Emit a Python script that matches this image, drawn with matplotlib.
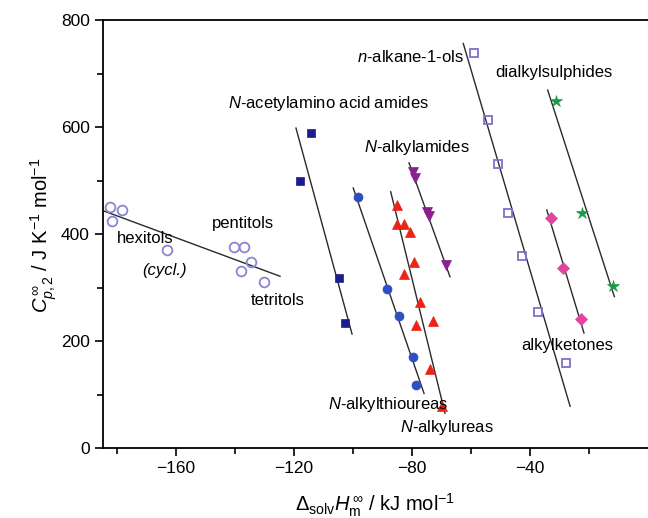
import matplotlib
matplotlib.use("Agg")
import matplotlib.pyplot as plt

plt.rcParams["font.family"] = ["Liberation Sans", "DejaVu Sans"]
plt.rcParams["mathtext.fontset"] = "custom"
plt.rcParams["mathtext.rm"] = "Liberation Sans"
plt.rcParams["mathtext.it"] = "Liberation Sans:italic"
plt.rcParams["mathtext.bf"] = "Liberation Sans:bold"

# Polyols (hexitols, cycl., pentitols, tetritols)
POLYOL_X = [-182.4, -178.3, -181.7, -163.1, -140.3, -137.0, -134.6, -138.0, -130.2]
POLYOL_Y = [450, 445, 424, 370, 376, 376, 348, 331, 310]
POLYOL_LINE = ([-184.4, -124.7], [443, 321])

# N-acetylamino acid amides
AMINO_X = [-114.2, -118.0, -104.7, -102.7]
AMINO_Y = [589, 499, 318, 234]
AMINO_LINE = ([-119.3, -100.3], [598, 213])

# N-alkylthioureas
THIOUREA_X = [-98.3, -88.5, -84.4, -79.7, -78.6]
THIOUREA_Y = [469, 297, 247, 170, 118]
THIOUREA_LINE = ([-99.9, -75.9], [486, 102])

# N-alkylureas
UREA_X = [-85.1, -85.1, -82.7, -80.7, -79.3, -82.7, -77.3, -78.6, -72.9, -73.9, -69.8]
UREA_Y = [454, 419, 419, 404, 348, 325, 273, 230, 237, 148, 78]
UREA_LINE = ([-87.2, -68.8], [479, 65])

# N-alkylamides
AMIDE_X = [-79.7, -79.0, -74.9, -74.2, -68.5]
AMIDE_Y = [516, 505, 441, 434, 342]
AMIDE_LINE = ([-81.0, -67.1], [533, 320])

# n-alkane-1-ols
ALKANOL_X = [-58.9, -54.1, -50.7, -47.4, -42.8, -37.2, -27.8]
ALKANOL_Y = [738, 613, 530, 440, 359, 255, 159]
ALKANOL_LINE = ([-62.6, -26.4], [756, 78])

# alkylketones
KETONE_X = [-32.9, -28.7, -22.8]
KETONE_Y = [429, 336, 242]
KETONE_LINE = ([-34.3, -21.7], [445, 215])

# dialkylsulphides
SULPHIDE_X = [-31.2, -22.3, -11.8]
SULPHIDE_Y = [649, 439, 303]
SULPHIDE_LINE = ([-34.0, -11.4], [669, 283])

LABELS = [
    ("hexitols", -170.3, 391, "normal"),
    ("(cycl.)", -163.7, 332, "italic"),
    ("pentitols", -137.3, 420, "normal"),
    ("tetritols", -125.5, 276, "normal"),
    (r"$N$-acetylamino acid amides", -108.2, 643, "normal"),
    (r"$N$-alkylamides", -78.4, 561, "normal"),
    (r"$n$-alkane-1-ols", -80.7, 731, "normal"),
    ("dialkylsulphides", -31.9, 701, "normal"),
    ("alkylketones", -27.3, 192, "normal"),
    (r"$N$-alkylthioureas", -88.1, 82, "normal"),
    (r"$N$-alkylureas", -68.1, 39, "normal"),
]

fig = plt.figure(figsize=(6.48, 5.18), dpi=100)
ax = fig.add_axes([103 / 648, 70 / 518, 545 / 648, 428 / 518])

series = [
    (POLYOL_X, POLYOL_Y, POLYOL_LINE, "o", "none", "#8a86d2", 7),
    (AMINO_X, AMINO_Y, AMINO_LINE, "s", "#1c1c8c", "#1c1c8c", 5.5),
    (THIOUREA_X, THIOUREA_Y, THIOUREA_LINE, "o", "#2c4fc4", "#2c4fc4", 6.5),
    (UREA_X, UREA_Y, UREA_LINE, "^", "#ea2418", "#ea2418", 7.5),
    (AMIDE_X, AMIDE_Y, AMIDE_LINE, "v", "#8a1f8e", "#8a1f8e", 7.5),
    (ALKANOL_X, ALKANOL_Y, ALKANOL_LINE, "s", "none", "#7b72cc", 6),
    (KETONE_X, KETONE_Y, KETONE_LINE, "D", "#e2449e", "#e2449e", 6),
    (SULPHIDE_X, SULPHIDE_Y, SULPHIDE_LINE, "*", "#1c9a48", "#1c9a48", 9),
]

for xs, ys, line, marker, face, edge, ms in series:
    ax.plot(line[0], line[1], color="#2a2a2a", lw=1.0, zorder=2)
    ax.plot(xs, ys, ls="none", marker=marker, ms=ms, mfc=face, mec=edge,
            mew=1.3 if face == "none" else 0.5, zorder=3)

for text, x, y, style in LABELS:
    ax.text(x, y, text, fontsize=12, style=style, ha="center", va="center")

ax.set_xlim(-184.7, 0)
ax.set_ylim(0, 800)
ax.set_xticks([-160, -120, -80, -40])
ax.set_xticks([-180, -140, -100, -60, -20], minor=True)
ax.set_yticks([0, 200, 400, 600, 800])
ax.set_yticks([100, 300, 500, 700], minor=True)
ax.tick_params(which="both", direction="out", width=1.2, labelsize=12.5)
ax.tick_params(which="major", length=6)
ax.tick_params(which="minor", length=4)
ax.spines["right"].set_visible(False)
for s in ["left", "bottom", "top"]:
    ax.spines[s].set_linewidth(1.3)

fig.text(44 / 648, 1 - 235 / 518,
         r"$C_{p,2}^{\,\infty}$ / J K$^{-1}$ mol$^{-1}$",
         rotation=90, fontsize=14.5, ha="center", va="center")
fig.text(375 / 648, 1 - 505 / 518,
         r"$\Delta_{\mathrm{solv}}H_{\mathrm{m}}^{\,\infty}$ / kJ mol$^{-1}$",
         fontsize=14.5, ha="center", va="center")

fig.savefig("out.png", dpi=100)
